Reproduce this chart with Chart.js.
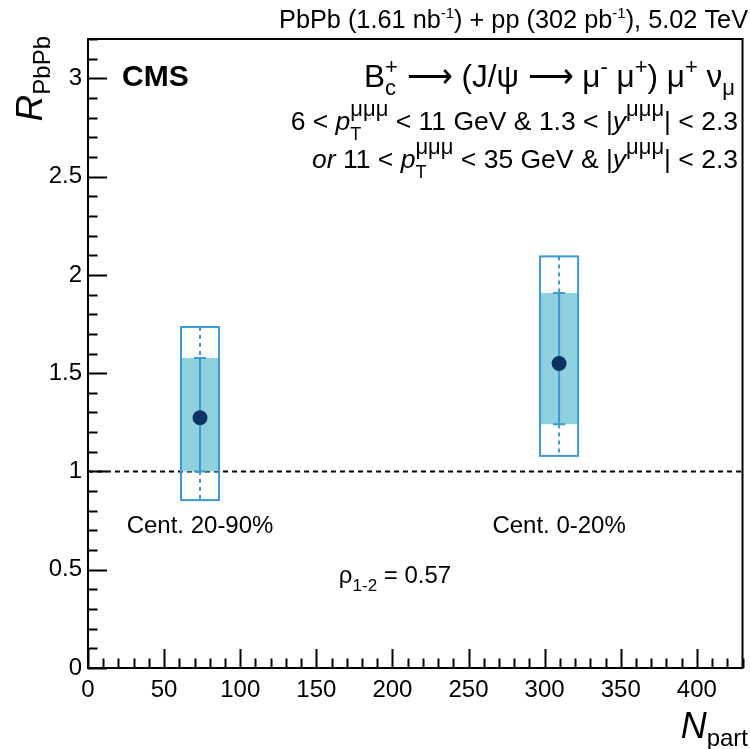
<!DOCTYPE html>
<html>
<head>
<meta charset="utf-8">
<script src="https://cdn.jsdelivr.net/npm/chart.js@4.4.0/dist/chart.umd.min.js"></script>
<style>
  html, body { margin: 0; padding: 0; background: #fff; }
  canvas { display: block; }
</style>
</head>
<body>
<canvas id="chart" width="750" height="749"></canvas>
<script>
// data
const centLabels = ["Cent. 20-90%", "Cent. 0-20%"];
const nPart = [73.6, 309.5];
const rPbPb = [1.273, 1.549];
const statLow = [1.0, 1.24];
const statHigh = [1.577, 1.908];
const systLow = [1.0, 1.24];
const systHigh = [1.577, 1.908];
const totLow = [0.854, 1.079];
const totHigh = [1.735, 2.094];
const xTicks = [0, 50, 100, 150, 200, 250, 300, 350, 400];
const yTicks = [0, 0.5, 1, 1.5, 2, 2.5, 3];
const boxHalf = 12.5;

const FONT = '"Liberation Sans", Arial, Helvetica, sans-serif';
const BLUE = "#3b9ad4";
const FILL = "#8fd0df";
const NAVY = "#0b3262";

function fontOf(p) {
    return (p.i ? "italic " : "") + (p.b ? "bold " : "") + (p.s || 24) + "px " + FONT;
}
function measure(ctx, p) {
    if (p.stack) return Math.max(...p.stack.map(q => measure(ctx, q)));
    ctx.font = fontOf(p);
    return ctx.measureText(p.t).width;
}
function drawRich(ctx, parts, x, y, align, base) {
    parts = parts.map(p => typeof p === "string" ? { t: p } : p);
    const fix = p => { if (p.stack) p.stack.forEach(fix); else if (!p.s) p.s = base || 24; };
    parts.forEach(fix);
    const total = parts.reduce((a, p) => a + measure(ctx, p), 0);
    let cx = align === "right" ? x - total : align === "center" ? x - total / 2 : x;
    ctx.textAlign = "left";
    ctx.textBaseline = "alphabetic";
    parts.forEach(p => {
        const w = measure(ctx, p);
        (p.stack || [p]).forEach(q => {
            ctx.font = fontOf(q);
            ctx.fillText(q.t, cx, y + (q.dy || 0));
        });
        cx += w;
    });
}

const ptmmm = () => ({ stack: [{ t: "μμμ", s: 22, dy: -14 }, { t: "T", s: 18, dy: 10 }] });

const rootPlot = {
    id: "rootPlot",
    beforeDatasetsDraw(chart) {
        const { ctx, chartArea: a, scales: { x, y } } = chart;
        ctx.save();
        // reference line at 1
        ctx.strokeStyle = "#000";
        ctx.lineWidth = 2;
        ctx.setLineDash([5, 4]);
        ctx.beginPath();
        ctx.moveTo(a.left, y.getPixelForValue(1));
        ctx.lineTo(a.right, y.getPixelForValue(1));
        ctx.stroke();

        nPart.forEach((n, i) => {
            const xl = x.getPixelForValue(n - boxHalf), xr = x.getPixelForValue(n + boxHalf);
            const xc = x.getPixelForValue(n);
            // filled box
            ctx.setLineDash([]);
            ctx.fillStyle = FILL;
            const sy1 = y.getPixelForValue(systHigh[i]), sy0 = y.getPixelForValue(systLow[i]);
            ctx.fillRect(xl, sy1, xr - xl, sy0 - sy1);
            // open box
            const ty1 = y.getPixelForValue(totHigh[i]), ty0 = y.getPixelForValue(totLow[i]);
            ctx.strokeStyle = BLUE;
            ctx.lineWidth = 2;
            ctx.strokeRect(xl, ty1, xr - xl, ty0 - ty1);
            // dashed vertical
            ctx.setLineDash([4, 4]);
            ctx.beginPath();
            ctx.moveTo(xc, ty1);
            ctx.lineTo(xc, ty0);
            ctx.stroke();
            // stat bar
            ctx.setLineDash([]);
            const ey1 = y.getPixelForValue(statHigh[i]), ey0 = y.getPixelForValue(statLow[i]);
            ctx.beginPath();
            ctx.moveTo(xc, ey1); ctx.lineTo(xc, ey0);
            ctx.moveTo(xc - 6, ey1); ctx.lineTo(xc + 6, ey1);
            ctx.moveTo(xc - 6, ey0); ctx.lineTo(xc + 6, ey0);
            ctx.stroke();
        });
        ctx.restore();
    },
    afterDraw(chart) {
        const { ctx, chartArea: a, scales: { x, y } } = chart;
        ctx.save();
        ctx.strokeStyle = "#000";
        ctx.lineWidth = 2;
        ctx.strokeRect(a.left, a.top, a.right - a.left, a.bottom - a.top);
        // ticks inside the frame
        ctx.beginPath();
        for (let v = 0; v <= 430 + 1e-6; v += 10) {
            const px = Math.round(x.getPixelForValue(v)) + 0.5;
            const len = v % 50 === 0 ? 19 : 9.5;
            ctx.moveTo(px, a.bottom); ctx.lineTo(px, a.bottom - len);
        }
        for (let k = 0; k <= 32; k++) {
            const v = k / 10;
            const py = Math.round(y.getPixelForValue(v)) + 0.5;
            const len = k % 5 === 0 ? 19 : 9.5;
            ctx.moveTo(a.left, py); ctx.lineTo(a.left + len, py);
        }
        ctx.stroke();

        ctx.fillStyle = "#000";
        drawRich(ctx, ["PbPb (1.61 nb", { t: "-1", s: 15, dy: -10 }, ") + pp (302 pb", { t: "-1", s: 15, dy: -10 }, "), 5.02 TeV"], 748, 28, "right", 25.3);
        drawRich(ctx, [{ t: "CMS", b: true, s: 30 }], 122, 86, "left");
        drawRich(ctx, ["B", { stack: [{ t: "+", s: 22, dy: -13 }, { t: "c", s: 22, dy: 8 }] },
            " ⟶ (J/ψ ⟶ μ", { t: "-", s: 22, dy: -13 }, " μ", { t: "+", s: 22, dy: -13 },
            ") μ", { t: "+", s: 22, dy: -13 }, " ν", { t: "μ", s: 22, dy: 8 }], 735, 87, "right", 31.5);
        drawRich(ctx, ["6 < ", { t: "p", i: true }, ptmmm(), " < 11 GeV & 1.3 < |", { t: "y", i: true },
            { t: "μμμ", s: 22, dy: -14 }, "| < 2.3"], 738, 130, "right", 26.5);
        drawRich(ctx, [{ t: "or", i: true }, " 11 < ", { t: "p", i: true }, ptmmm(), " < 35 GeV & |", { t: "y", i: true },
            { t: "μμμ", s: 22, dy: -14 }, "| < 2.3"], 738, 168, "right", 26.5);
        centLabels.forEach((lab, i) => {
            drawRich(ctx, [lab], x.getPixelForValue(nPart[i]), 533, "center");
        });
        drawRich(ctx, ["ρ", { t: "1-2", s: 17, dy: 8 }, " = 0.57"], 395, 583, "center");
        drawRich(ctx, [{ t: "N", i: true, s: 36 }, { t: "part", s: 24, dy: 8 }], 748, 738, "right");
        ctx.translate(42, 36);
        ctx.rotate(-Math.PI / 2);
        drawRich(ctx, [{ t: "R", i: true, s: 37 }, { t: "PbPb", s: 24, dy: 8 }], 0, 0, "right");
        ctx.restore();
    }
};

new Chart(document.getElementById("chart").getContext("2d"), {
    type: "scatter",
    data: {
        datasets: [{
            data: nPart.map((n, i) => ({ x: n, y: rPbPb[i] })),
            pointRadius: 7.5,
            pointHoverRadius: 7.5,
            pointBackgroundColor: NAVY,
            pointBorderColor: NAVY,
            pointBorderWidth: 0
        }]
    },
    options: {
        responsive: false,
        animation: false,
        layout: { padding: { left: 0, right: 2, top: 39, bottom: 0 } },
        plugins: { legend: { display: false }, tooltip: { enabled: false } },
        scales: {
            x: {
                type: "linear", min: 0, max: 430,
                grid: { display: false }, border: { display: false },
                afterBuildTicks: s => { s.ticks = xTicks.map(v => ({ value: v })); },
                afterFit: s => { s.height = 81; },
                ticks: { font: { family: FONT, size: 24 }, color: "#000", padding: 0, maxRotation: 0, autoSkip: false }
            },
            y: {
                type: "linear", min: 0, max: 3.2,
                grid: { display: false }, border: { display: false },
                afterBuildTicks: s => { s.ticks = yTicks.map(v => ({ value: v })); },
                afterFit: s => { s.width = 88; },
                ticks: { font: { family: FONT, size: 24 }, color: "#000", padding: -2, autoSkip: false,
                         callback: v => String(v) }
            }
        }
    },
    plugins: [rootPlot]
});
</script>
</body>
</html>
